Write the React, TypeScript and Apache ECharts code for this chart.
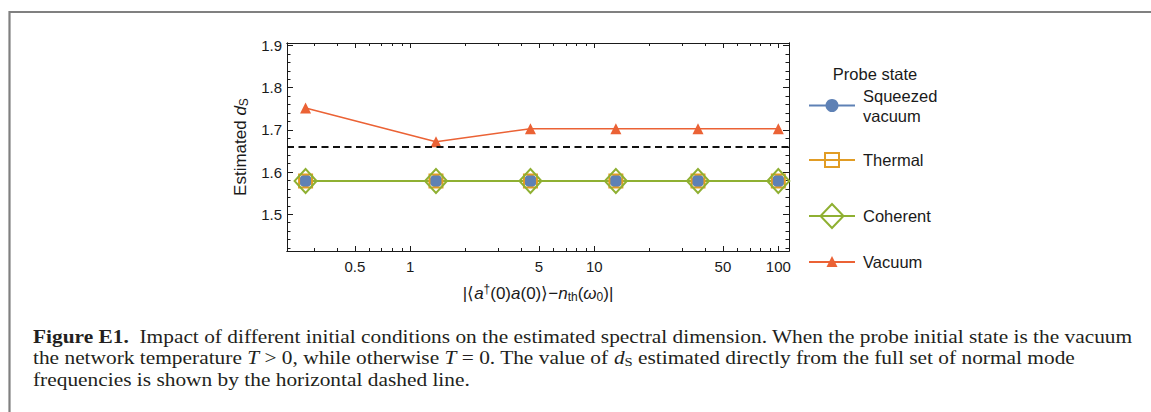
import React, { useEffect, useRef } from "react";
import * as echarts from "echarts";

// ---------- data ----------
const xValues = [0.27, 1.38, 4.5, 13.1, 36.6, 100];
const squeezedVacuum = [1.579, 1.579, 1.579, 1.579, 1.579, 1.579];
const thermal = [1.579, 1.579, 1.579, 1.579, 1.579, 1.579];
const coherent = [1.579, 1.579, 1.579, 1.579, 1.579, 1.579];
const vacuum = [1.752, 1.672, 1.703, 1.703, 1.703, 1.703];
const normalModeDs = 1.659;

const xRange = [0.214, 114.3];
const yRange = [1.413, 1.906];
const xMajorTicks = [0.5, 1, 5, 10, 50, 100];
const xMinorTicks = [0.3, 0.4, 0.6, 0.7, 0.8, 0.9, 2, 3, 4, 6, 7, 8, 9, 20, 30, 40, 60, 70, 80, 90];
const yMajorTicks = [1.5, 1.6, 1.7, 1.8, 1.9];
const yMinorTicks = [1.42, 1.44, 1.46, 1.48, 1.52, 1.54, 1.56, 1.58, 1.62, 1.64, 1.66, 1.68, 1.72, 1.74, 1.76, 1.78, 1.82, 1.84, 1.86, 1.88];

const legendTitle = "Probe state";
const seriesNames = ["Squeezed vacuum", "Thermal", "Coherent", "Vacuum"];
const captionLines = [
  "{b|Figure E1.}{n|  Impact of different initial conditions on the estimated spectral dimension. When the probe initial state is the vacuum}",
  "{n|the network temperature }{i|T}{n| > 0, while otherwise }{i|T}{n| = 0. The value of }{i|d}{s|S}{n| estimated directly from the full set of normal mode}",
  "{n|frequencies is shown by the horizontal dashed line.}",
];

// ---------- styles ----------
const BLUE = "#5E81B5";
const ORANGE = "#E19C24";
const GREEN = "#8FB032";
const RED = "#EB6235";
const INK = "#1a1a1a";
const SANS = "'Liberation Sans', Arial, Helvetica, sans-serif";
const SERIF = "'Liberation Serif', 'Times New Roman', serif";

const lg = (v: number) => Math.log10(v);
const fmtX = (v: number) => String(Number(Math.pow(10, v).toPrecision(4)));
const fmtY = (v: number) => v.toFixed(1);

function xAxisCfg(position: string, ticks: number[], len: number, labels: boolean, name?: any) {
  const cfg: any = {
    type: "value",
    position,
    min: lg(xRange[0]),
    max: lg(xRange[1]),
    axisLine: { show: true, onZero: false, lineStyle: { color: INK, width: 1 } },
    axisTick: { show: true, inside: true, length: len, customValues: ticks.map(lg), lineStyle: { color: INK, width: 1 } },
    axisLabel: labels
      ? { show: true, customValues: ticks.map(lg), formatter: fmtX, fontSize: 15, fontFamily: SANS, color: INK, margin: 8 }
      : { show: false },
    splitLine: { show: false },
  };
  if (name) Object.assign(cfg, name);
  return cfg;
}

function yAxisCfg(position: string, ticks: number[], len: number, labels: boolean, name?: any) {
  const cfg: any = {
    type: "value",
    position,
    min: yRange[0],
    max: yRange[1],
    axisLine: { show: true, onZero: false, lineStyle: { color: INK, width: 1 } },
    axisTick: { show: true, inside: true, length: len, customValues: ticks, lineStyle: { color: INK, width: 1 } },
    axisLabel: labels
      ? { show: true, customValues: ticks, formatter: fmtY, fontSize: 15, fontFamily: SANS, color: INK, margin: 5 }
      : { show: false },
    splitLine: { show: false },
  };
  if (name) Object.assign(cfg, name);
  return cfg;
}

const richSans = (size: number) => ({
  n: { fontSize: size, fontFamily: SANS, color: INK, lineHeight: 20, verticalAlign: "middle" },
  i: { fontSize: size, fontFamily: SANS, fontStyle: "italic", color: INK, lineHeight: 20, verticalAlign: "middle" },
  sub: { fontSize: Math.round(size * 0.68), fontFamily: SANS, color: INK, lineHeight: 11, verticalAlign: "bottom" },
  sup: { fontSize: Math.round(size * 0.68), fontFamily: SANS, color: INK, lineHeight: 11, verticalAlign: "top" },
});

const pts = (ys: number[]) => xValues.map((x, i) => [lg(x), ys[i]]);

export default function App() {
  const ref = useRef<HTMLDivElement>(null);

  useEffect(() => {
    if (!ref.current) return;
    const chart = echarts.init(ref.current, null, { renderer: "svg" });

    const lineSeries = (name: string, ys: number[], color: string, width: number, extra: any = {}) => ({
      type: "line",
      name,
      data: pts(ys),
      xAxisIndex: 0,
      yAxisIndex: 0,
      symbol: "none",
      lineStyle: { color, width },
      itemStyle: { color },
      z: 2,
      silent: true,
      ...extra,
    });
    const markerSeries = (name: string, ys: number[], symbol: string, size: any, itemStyle: any) => ({
      type: "scatter",
      name,
      data: pts(ys),
      xAxisIndex: 0,
      yAxisIndex: 0,
      symbol,
      symbolSize: size,
      itemStyle: { opacity: 1, ...itemStyle },
      z: 3,
      silent: true,
    });

    const lx1 = 809, lx2 = 855, lmx = 832, ltx = 863;
    const yS = 105.5, yT = 160, yC = 216, yV = 262;
    const legendText = (text: string, y: number) => ({
      type: "text",
      x: ltx,
      y,
      style: { text, fontSize: 16.5, fontFamily: SANS, fill: INK, align: "left", verticalAlign: "middle" },
    });
    const legendLine = (y: number, color: string) => ({
      type: "line",
      shape: { x1: lx1, y1: y, x2: lx2, y2: y },
      style: { stroke: color, lineWidth: 2 },
    });

    const option: any = {
      animation: false,
      backgroundColor: "#ffffff",
      grid: { left: 287, top: 43, width: 502, height: 208, containLabel: false },
      xAxis: [
        xAxisCfg("bottom", xMajorTicks, 5, true, {
          name: "{n||⟨}{i|a}{sup|†}{n|(0)}{i|a}{n|(0)⟩−}{i|n}{sub|th}{n|(}{i|ω}{sub|0}{n|)|}",
          nameLocation: "middle",
          nameGap: 32,
          nameTextStyle: { fontSize: 17, fontFamily: SANS, color: INK, rich: richSans(17) },
        }),
        xAxisCfg("bottom", xMinorTicks, 3, false),
        xAxisCfg("top", xMajorTicks, 5, false),
        xAxisCfg("top", xMinorTicks, 3, false),
      ],
      yAxis: [
        yAxisCfg("left", yMajorTicks, 6, true, {
          name: "{n|Estimated }{i|d}{sub|S}",
          nameLocation: "middle",
          nameGap: 37,
          nameRotate: 90,
          nameTextStyle: { fontSize: 17, fontFamily: SANS, color: INK, rich: richSans(17) },
        }),
        yAxisCfg("left", yMinorTicks, 3.5, false),
        yAxisCfg("right", yMajorTicks, 6, false),
        yAxisCfg("right", yMinorTicks, 3.5, false),
      ],
      series: [
        lineSeries(seriesNames[0], squeezedVacuum, BLUE, 2),
        lineSeries(seriesNames[1], thermal, ORANGE, 2),
        lineSeries(seriesNames[2], coherent, GREEN, 2),
        lineSeries(seriesNames[3], vacuum, RED, 1.5, {
          markLine: {
            silent: true,
            symbol: ["none", "none"],
            label: { show: false },
            lineStyle: { color: "#111111", width: 2, type: [7, 4.5] },
            data: [{ yAxis: normalModeDs }],
          },
        }),
        markerSeries(seriesNames[0], squeezedVacuum, "circle", 13, { color: BLUE }),
        markerSeries(seriesNames[1], thermal, "rect", 13, { color: "rgba(255,255,255,0)", borderColor: ORANGE, borderWidth: 2 }),
        markerSeries(seriesNames[2], coherent, "diamond", [22, 24], { color: "rgba(255,255,255,0)", borderColor: GREEN, borderWidth: 2 }),
        markerSeries(seriesNames[3], vacuum, "triangle", 11, { color: RED }),
      ],
      graphic: [
        // outer frame
        {
          type: "rect",
          shape: { x: 9.5, y: 12, width: 1300, height: 600 },
          style: { fill: "none", stroke: "#808080", lineWidth: 2.2 },
          silent: true,
        },
        // legend
        {
          type: "text",
          x: 875,
          y: 74,
          style: { text: legendTitle, fontSize: 16.5, fontFamily: SANS, fill: INK, align: "center", verticalAlign: "middle" },
        },
        legendLine(yS, BLUE),
        { type: "circle", shape: { cx: lmx, cy: yS, r: 6.5 }, style: { fill: BLUE } },
        legendText("Squeezed", 95.7),
        legendText("vacuum", 115.7),
        legendLine(yT, ORANGE),
        { type: "rect", shape: { x: lmx - 7, y: yT - 7, width: 14, height: 14 }, style: { fill: "none", stroke: ORANGE, lineWidth: 2 } },
        legendText("Thermal", yT),
        legendLine(yC, GREEN),
        {
          type: "polygon",
          shape: { points: [[lmx, yC - 12], [lmx + 11.5, yC], [lmx, yC + 12], [lmx - 11.5, yC]] },
          style: { fill: "none", stroke: GREEN, lineWidth: 2 },
        },
        legendText("Coherent", yC),
        legendLine(yV, RED),
        {
          type: "polygon",
          shape: { points: [[lmx, yV - 6], [lmx + 5.5, yV + 5], [lmx - 5.5, yV + 5]] },
          style: { fill: RED },
        },
        legendText("Vacuum", yV),
        // caption
        ...captionLines.map((line, k) => ({
          type: "text",
          x: 33,
          y: 336 + k * 21.5,
          scaleX: 1.125,
          style: {
            text: line,
            align: "left",
            verticalAlign: "middle",
            fontSize: 19,
            fontFamily: SERIF,
            fill: "#231f20",
            rich: {
              n: { fontSize: 19, fontFamily: SERIF, color: "#231f20", lineHeight: 22, verticalAlign: "middle" },
              b: { fontSize: 19, fontFamily: SERIF, fontWeight: "bold", color: "#231f20", lineHeight: 22, verticalAlign: "middle" },
              i: { fontSize: 19, fontFamily: SERIF, fontStyle: "italic", color: "#231f20", lineHeight: 22, verticalAlign: "middle" },
              s: { fontSize: 13, fontFamily: SERIF, color: "#231f20", lineHeight: 13, verticalAlign: "bottom" },
            },
          },
        })),
      ],
    };

    chart.setOption(option);
    return () => chart.dispose();
  }, []);

  return (
    <div
      ref={ref}
      style={{ position: "absolute", left: 0, top: 0, width: 1151, height: 412, background: "#fff" }}
    />
  );
}
